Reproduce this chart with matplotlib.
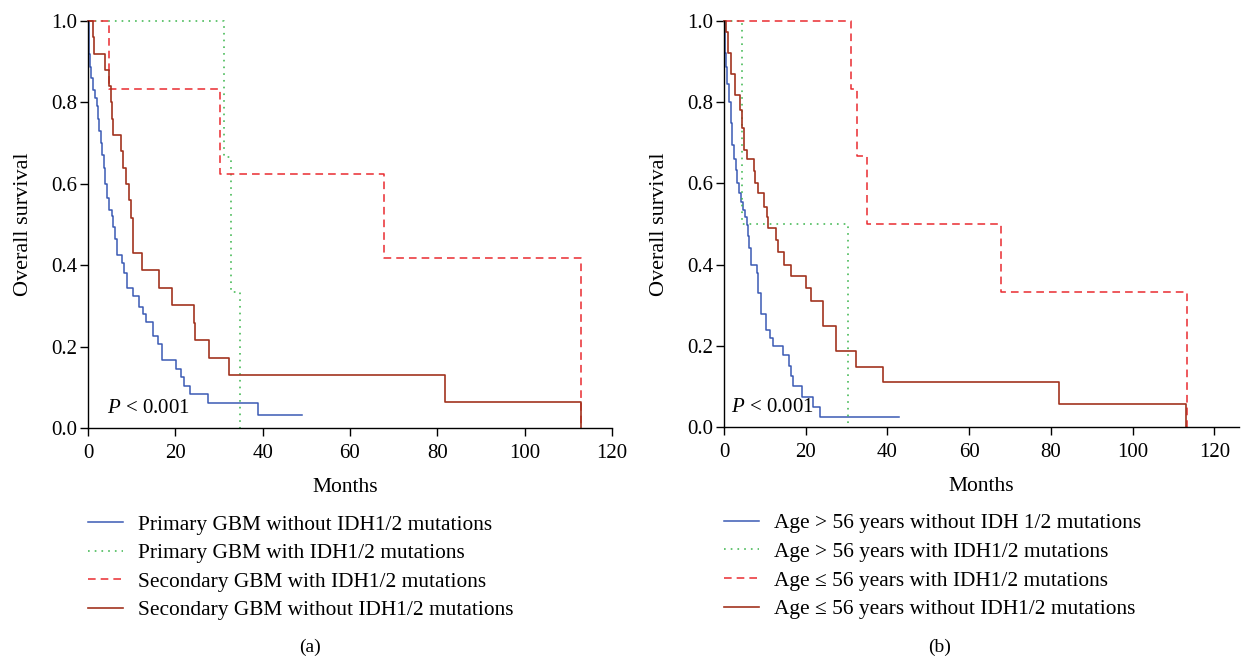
import matplotlib
matplotlib.use("Agg")
import matplotlib.pyplot as plt

plt.rcParams['font.family'] = ['Liberation Serif', 'DejaVu Serif']
plt.rcParams['mathtext.fontset'] = 'custom'
plt.rcParams['mathtext.it'] = 'Liberation Serif:italic'
plt.rcParams['mathtext.rm'] = 'Liberation Serif'

# ---------------- Data (a) ----------------
a_labels = ["Primary GBM without IDH1/2 mutations",
            "Primary GBM with IDH1/2 mutations",
            "Secondary GBM with IDH1/2 mutations",
            "Secondary GBM without IDH1/2 mutations"]

a_prim_wo_t = [0.15, 0.3, 0.5, 0.8, 1.2, 1.6, 2.0, 2.3, 2.6, 2.9, 3.3, 3.6, 3.9, 4.3, 4.7,
               5.4, 5.8, 6.1, 6.6, 7.7, 8.2, 8.9, 10.4, 11.7, 12.6, 13.3, 14.8, 16.1, 16.9,
               20.2, 21.2, 21.9, 23.4, 27.4, 39.0]
a_prim_wo_s = [0.96, 0.92, 0.888, 0.86, 0.83, 0.81, 0.79, 0.76, 0.73, 0.70, 0.67, 0.64, 0.60,
               0.565, 0.535, 0.52, 0.495, 0.465, 0.425, 0.405, 0.38, 0.345, 0.325, 0.297, 0.28,
               0.26, 0.225, 0.207, 0.167, 0.146, 0.126, 0.104, 0.083, 0.062, 0.031]
a_prim_wo_end = 48.9

a_prim_w_t = [31.1, 32.8, 34.7]
a_prim_w_s = [0.667, 0.333, 0.0]
a_prim_w_end = 34.7

a_sec_w_t = [4.9, 30.3, 67.8, 113.0]
a_sec_w_s = [0.833, 0.625, 0.417, 0.0]
a_sec_w_end = 113.0

a_sec_wo_t = [1.07, 1.4, 3.9, 4.8, 5.2, 5.5, 5.8, 7.6, 8.1, 8.7, 9.4, 9.95, 10.4, 12.3, 16.3,
              19.2, 24.3, 24.6, 27.6, 32.2, 81.8, 113.0]
a_sec_wo_s = [0.96, 0.92, 0.88, 0.84, 0.80, 0.76, 0.72, 0.68, 0.64, 0.60, 0.56, 0.516, 0.43,
              0.388, 0.345, 0.302, 0.259, 0.216, 0.173, 0.13, 0.065, 0.0]
a_sec_wo_end = 113.0

# ---------------- Data (b) ----------------
b_labels = ["Age > 56 years without IDH 1/2 mutations",
            "Age > 56 years with IDH1/2 mutations",
            "Age \u2264 56 years with IDH1/2 mutations",
            "Age \u2264 56 years without IDH1/2 mutations"]

b_old_wo_t = [0.15, 0.3, 0.5, 0.8, 1.2, 1.6, 2.0, 2.4, 2.85, 3.3, 3.7, 4.2, 4.7, 5.1, 5.7, 5.9,
              6.1, 6.5, 8.1, 8.4, 8.96, 10.3, 11.2, 12.1, 14.5, 16.0, 16.3, 16.9, 19.2, 21.8, 23.5]
b_old_wo_s = [0.96, 0.92, 0.887, 0.846, 0.80, 0.748, 0.694, 0.66, 0.633, 0.60, 0.576, 0.555,
              0.535, 0.518, 0.498, 0.47, 0.44, 0.40, 0.38, 0.33, 0.278, 0.239, 0.218, 0.199,
              0.177, 0.15, 0.126, 0.1, 0.073, 0.049, 0.024]
b_old_wo_end = 42.7

b_old_w_t = [4.5, 30.4]
b_old_w_s = [0.5, 0.0]
b_old_w_end = 30.4

b_young_w_t = [31.0, 32.6, 34.9, 67.7, 113.2]
b_young_w_s = [0.833, 0.667, 0.5, 0.333, 0.0]
b_young_w_end = 113.2

b_young_wo_t = [0.4, 0.9, 1.7, 2.75, 3.8, 4.3, 5.0, 5.6, 7.3, 7.7, 8.2, 9.85, 10.6, 10.8, 12.6,
                13.1, 14.75, 16.5, 20.0, 21.3, 24.1, 27.4, 32.4, 39.0, 82.0, 113.0]
b_young_wo_s = [0.974, 0.922, 0.87, 0.818, 0.781, 0.736, 0.683, 0.659, 0.63, 0.6, 0.576, 0.543,
                0.518, 0.49, 0.461, 0.432, 0.399, 0.372, 0.342, 0.311, 0.249, 0.186, 0.147,
                0.112, 0.056, 0.0]
b_young_wo_end = 113.0

x_ticks = [0, 20, 40, 60, 80, 100, 120]
y_ticks = [0.0, 0.2, 0.4, 0.6, 0.8, 1.0]

BLUE = '#3a5ab4'
GREEN = '#3bb54c'
RED = '#e92b30'
BROWN = '#a2331f'

styles = [dict(color=BLUE, lw=1.1, ls='-'),
          dict(color=GREEN, lw=1.1, ls=(0, (1.1, 3.3))),
          dict(color=RED, lw=1.1, ls=(0, (5.0, 3.3))),
          dict(color=BROWN, lw=1.2, ls='-')]


def km(ax, times, surv, end, style, label):
    x = [0] + list(times) + [end]
    y = [1.0] + list(surv) + [surv[-1]]
    ax.step(x, y, where='post', label=label, clip_on=False, **style)


W, H = 1242, 660
fig = plt.figure(figsize=(W / 100, H / 100), dpi=100)

ax1 = fig.add_axes([88 / W, 1 - 428 / H, 524 / W, 407 / H])
ax2 = fig.add_axes([724 / W, 1 - 427 / H, 515 / W, 406 / H])

data_a = [(a_prim_wo_t, a_prim_wo_s, a_prim_wo_end),
          (a_prim_w_t, a_prim_w_s, a_prim_w_end),
          (a_sec_w_t, a_sec_w_s, a_sec_w_end),
          (a_sec_wo_t, a_sec_wo_s, a_sec_wo_end)]
data_b = [(b_old_wo_t, b_old_wo_s, b_old_wo_end),
          (b_old_w_t, b_old_w_s, b_old_w_end),
          (b_young_w_t, b_young_w_s, b_young_w_end),
          (b_young_wo_t, b_young_wo_s, b_young_wo_end)]

for ax, data, labels, xmax, ptx, tag, tagx in [
        (ax1, data_a, a_labels, 120, 4.4, '(a)', 310),
        (ax2, data_b, b_labels, 126, 1.7, '(b)', 940)]:
    for (t, s, e), st, lab in zip(data, styles, labels):
        km(ax, t, s, e, st, lab)
    ax.set_xlim(0, xmax)
    ax.set_ylim(0, 1.0)
    ax.set_xticks(x_ticks)
    ax.set_yticks(y_ticks)
    ax.set_yticklabels([f"{v:.1f}" for v in y_ticks])
    for sp in ['top', 'right']:
        ax.spines[sp].set_visible(False)
    for sp in ['left', 'bottom']:
        ax.spines[sp].set_linewidth(1.0)
    ax.tick_params(direction='out', length=5.5, width=1.0, labelsize=15, pad=2.5)
    ax.tick_params(axis='x', pad=6)
    axw = ax.get_position().width * W
    ax.set_xlabel('Months', fontsize=15.5)
    ax.xaxis.set_label_coords(257 / axw, -50 / 407)
    ax.set_ylabel('Overall survival', fontsize=16)
    ax.yaxis.set_label_coords(-55 / axw, 0.5)
    ax.text(ptx, 0.048, '$P$ < 0.001', fontsize=15, ha='left', va='center')
    ax.legend(loc='upper left', bbox_to_anchor=(0.0, -0.213), frameon=False,
              fontsize=15.4, handlelength=1.64, handletextpad=0.7,
              labelspacing=0.4, borderpad=0, borderaxespad=0)
    fig.text(tagx / W, 1 - 647 / H, tag, fontsize=14, ha='center', va='center')

fig.savefig('out.png', dpi=100)
